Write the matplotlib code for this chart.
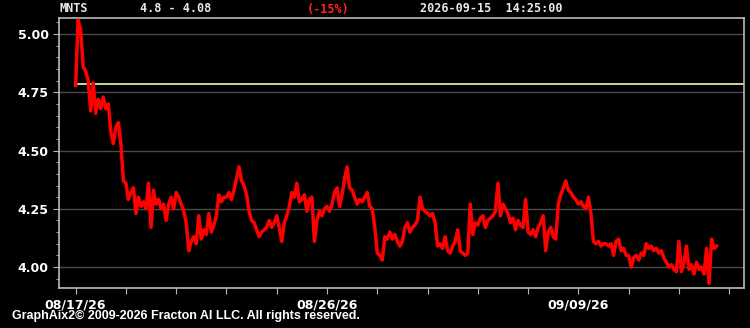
import numpy as np
from matplotlib import pyplot as plt
from matplotlib.ticker import MultipleLocator

# price samples, one row per tick interval (20 samples per interval)
prices = [
    4.78, 5.06, 5.02, 4.86, 4.84, 4.80, 4.67, 4.79, 4.66, 4.72, 4.68, 4.73, 4.68, 4.70, 4.58, 4.53, 4.60, 4.62, 4.53, 4.37,
    4.36, 4.29, 4.32, 4.34, 4.23, 4.30, 4.26, 4.28, 4.25, 4.36, 4.17, 4.33, 4.27, 4.29, 4.25, 4.27, 4.20, 4.27, 4.30, 4.25,
    4.32, 4.30, 4.27, 4.24, 4.19, 4.07, 4.11, 4.13, 4.10, 4.22, 4.12, 4.16, 4.14, 4.23, 4.15, 4.18, 4.22, 4.31, 4.28, 4.30,
    4.30, 4.32, 4.29, 4.33, 4.38, 4.43, 4.37, 4.35, 4.31, 4.24, 4.20, 4.19, 4.16, 4.13, 4.15, 4.16, 4.17, 4.20, 4.17, 4.19,
    4.22, 4.17, 4.11, 4.19, 4.22, 4.26, 4.32, 4.30, 4.36, 4.28, 4.29, 4.31, 4.24, 4.29, 4.30, 4.11, 4.20, 4.24, 4.22, 4.25,
    4.26, 4.24, 4.27, 4.32, 4.34, 4.26, 4.31, 4.38, 4.43, 4.34, 4.33, 4.30, 4.27, 4.29, 4.28, 4.30, 4.32, 4.26, 4.25, 4.17,
    4.06, 4.05, 4.03, 4.13, 4.12, 4.15, 4.12, 4.14, 4.11, 4.09, 4.11, 4.17, 4.19, 4.15, 4.17, 4.18, 4.20, 4.30, 4.25, 4.24,
    4.23, 4.22, 4.23, 4.19, 4.09, 4.10, 4.08, 4.13, 4.07, 4.06, 4.09, 4.11, 4.16, 4.07, 4.06, 4.05, 4.06, 4.27, 4.14, 4.19,
    4.18, 4.21, 4.22, 4.17, 4.20, 4.21, 4.22, 4.24, 4.36, 4.22, 4.27, 4.25, 4.23, 4.19, 4.21, 4.16, 4.20, 4.18, 4.17, 4.29,
    4.15, 4.14, 4.16, 4.13, 4.17, 4.19, 4.22, 4.07, 4.15, 4.17, 4.13, 4.12, 4.27, 4.31, 4.34, 4.37, 4.33, 4.32, 4.30, 4.29,
    4.27, 4.28, 4.26, 4.25, 4.30, 4.23, 4.11, 4.10, 4.11, 4.09, 4.10, 4.10, 4.09, 4.10, 4.05, 4.11, 4.12, 4.07, 4.08, 4.05,
    4.05, 4.00, 4.04, 4.05, 4.03, 4.06, 4.05, 4.10, 4.08, 4.09, 4.07, 4.08, 4.06, 4.07, 4.04, 4.02, 4.00, 4.01, 3.99, 3.98,
    4.11, 3.98, 4.02, 4.09, 3.99, 4.01, 3.97, 4.02, 3.99, 4.00, 3.97, 4.08, 3.93, 4.12, 4.08, 4.09,
]
ref_price = 4.787
date_labels = ["08/17/26", "08/26/26", "09/09/26"]
date_ticks = [0, 5, 10]
n_ticks = 14

x = np.arange(len(prices)) * 0.05

fig = plt.figure(figsize=(7.5, 3.28), dpi=100, facecolor="black")
ax = fig.add_axes([0.0787, 0.122, 0.913, 0.823], facecolor="black")

ax.plot(x, prices, color="#ff0000", lw=2.5, zorder=3)
ax.plot([0, 14], [ref_price, ref_price], color="#d8eaa0", lw=1.3, zorder=2)

ax.set_xlim(-0.33, 13.29)
ax.set_ylim(3.91, 5.069)

ax.set_yticks([4.0, 4.25, 4.5, 4.75, 5.0])
ax.set_yticklabels(["4.00", "4.25", "4.50", "4.75", "5.00"])
ax.yaxis.set_minor_locator(MultipleLocator(0.05))
ax.set_xticks(range(n_ticks))
ax.set_xticklabels([date_labels[date_ticks.index(i)] if i in date_ticks else "" for i in range(n_ticks)])

ax.grid(axis="y", which="major", color="#4a4a4a", lw=1.0)
ax.set_axisbelow(True)
for s in ax.spines.values():
    s.set_color("#bbbbbb")
    s.set_linewidth(1.2)
ax.tick_params(which="both", colors="#bbbbbb", direction="out")
ax.tick_params(which="major", length=4, labelsize=9, labelcolor="white")
ax.tick_params(which="minor", length=2)
for lab in ax.get_xticklabels() + ax.get_yticklabels():
    lab.set_fontweight("bold")

mono = dict(family="DejaVu Sans Mono", fontsize=8.5, fontweight="bold", va="center")
fig.text(60 / 750, 1 - 9 / 328, "MNTS", color="#e8e8e8", **mono)
fig.text(140 / 750, 1 - 9 / 328, "4.8 - 4.08", color="#e8e8e8", **mono)
fig.text(307 / 750, 1 - 9 / 328, "(-15%)", color="#ff2020", **mono)
fig.text(420 / 750, 1 - 9 / 328, "2026-09-15  14:25:00", color="#e8e8e8", **mono)

fig.text(12 / 750, 1 - 316 / 328, "GraphAix2\u00a9 2009-2026 Fracton AI LLC. All rights reserved.",
         color="white", fontsize=9, fontweight="bold", va="center",
         family=["Liberation Sans Narrow", "Liberation Sans", "DejaVu Sans"])

fig.savefig("out.png", dpi=100, facecolor="black")
